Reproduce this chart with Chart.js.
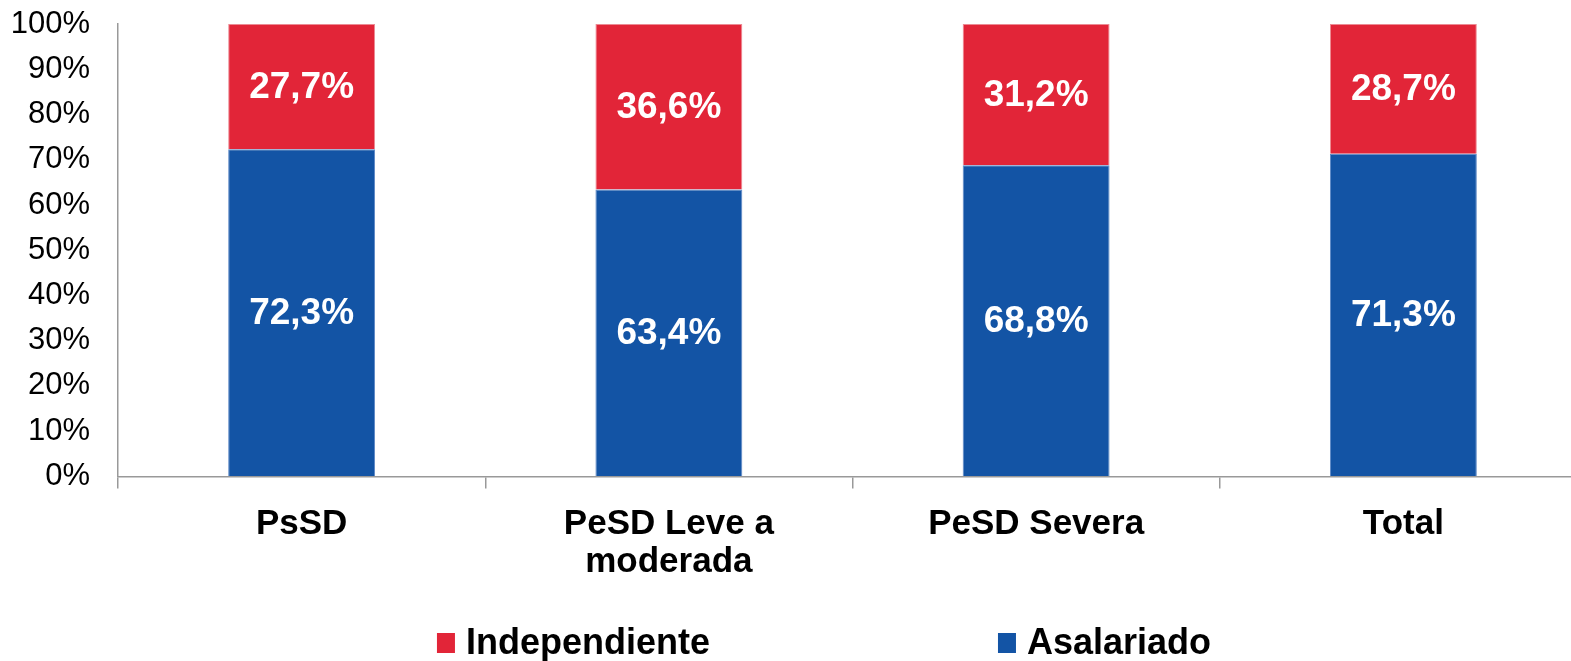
<!DOCTYPE html>
<html>
<head>
<meta charset="utf-8">
<script src="https://cdn.jsdelivr.net/npm/chart.js@4/dist/chart.umd.min.js"></script>
<style>
    html, body { margin: 0; padding: 0; background: #fff; overflow: hidden; }
</style>
</head>
<body>
<canvas id="myChart" width="1600" height="661"></canvas>
<script>
// categorias y valores (%)
const categories = ['PsSD', ['PeSD Leve a', 'moderada'], 'PeSD Severa', 'Total'];
const asalariado = [72.3, 63.4, 68.8, 71.3];
const independiente = [27.7, 36.6, 31.2, 28.7];
const yTicks = [0, 10, 20, 30, 40, 50, 60, 70, 80, 90, 100];

const FONT = '"Liberation Sans", Arial, sans-serif';
const RED = '#e22538';
const BLUE = '#1354a5';

// etiquetas blancas dentro de las barras
const barLabels = {
    id: 'barLabels',
    afterDatasetsDraw(chart) {
        const ctx = chart.ctx;
        ctx.save();
        ctx.fillStyle = '#fff';
        ctx.font = 'bold 37px ' + FONT;
        ctx.textAlign = 'center';
        ctx.textBaseline = 'middle';
        chart.data.datasets.forEach((ds, i) => {
            chart.getDatasetMeta(i).data.forEach((bar, j) => {
                const txt = ds.data[j].toFixed(1).replace('.', ',') + '%';
                ctx.fillText(txt, bar.x, (bar.y + bar.base) / 2 + 1);
            });
        });
        ctx.restore();
    }
};

// leyenda propia abajo (Independiente primero)
const bottomLegend = {
    id: 'bottomLegend',
    afterDraw(chart) {
        const ctx = chart.ctx;
        ctx.save();
        ctx.font = 'bold 36px ' + FONT;
        ctx.textBaseline = 'middle';
        const items = chart.data.datasets.slice().reverse();
        const box = 18, gap = 11, between = 288;
        const widths = items.map(ds => box + gap + ctx.measureText(ds.label).width);
        const total = widths.reduce((a, b) => a + b, 0) + between * (items.length - 1);
        let x = 824 - total / 2;
        const y = 643;
        items.forEach((ds, i) => {
            ctx.fillStyle = ds.backgroundColor;
            ctx.fillRect(x, y - 10, box, 20);
            ctx.fillStyle = '#000';
            ctx.fillText(ds.label, x + box + gap, y + 1);
            x += widths[i] + between;
        });
        ctx.restore();
    }
};

const ctx = document.getElementById('myChart').getContext('2d');

new Chart(ctx, {
    type: 'bar',
    data: {
        labels: categories,
        datasets: [
            {
                label: 'Asalariado',
                data: asalariado,
                backgroundColor: BLUE,
                borderColor: '#5d88c6',
                borderWidth: 1,
                categoryPercentage: 1,
                barPercentage: 0.4
            },
            {
                label: 'Independiente',
                data: independiente,
                backgroundColor: RED,
                borderColor: '#ec8a93',
                borderWidth: 1,
                categoryPercentage: 1,
                barPercentage: 0.4
            }
        ]
    },
    options: {
        responsive: false,
        devicePixelRatio: 1,
        animation: false,
        layout: {
            padding: { left: 0, right: 13, top: 0, bottom: 63 }
        },
        plugins: {
            legend: { display: false },
            tooltip: { enabled: false }
        },
        scales: {
            x: {
                stacked: true,
                grid: {
                    drawOnChartArea: false,
                    color: '#999',
                    lineWidth: 1.5,
                    tickLength: 12,
                    offset: true
                },
                border: { color: '#999', width: 1.5 },
                ticks: {
                    color: '#000',
                    padding: 17,
                    maxRotation: 0,
                    autoSkip: false,
                    font: { family: FONT, size: 35, weight: 'bold', lineHeight: 1.08 }
                }
            },
            y: {
                stacked: true,
                min: 0,
                max: 100,
                afterBuildTicks(axis) {
                    axis.ticks = yTicks.map(v => ({ value: v }));
                },
                afterFit(axis) {
                    axis.width = 118;
                    axis.paddingTop = 24;
                },
                grid: { drawOnChartArea: false, drawTicks: false },
                border: { color: '#999', width: 1.5 },
                ticks: {
                    color: '#000',
                    padding: 28,
                    font: { family: FONT, size: 31 },
                    callback: v => v + '%'
                }
            }
        }
    },
    plugins: [barLabels, bottomLegend]
});
</script>
</body>
</html>
